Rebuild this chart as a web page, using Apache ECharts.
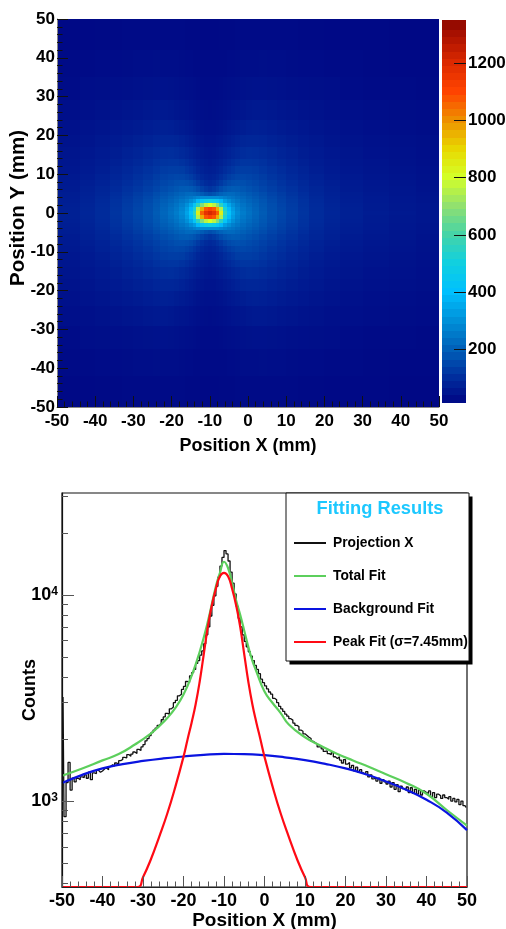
<!DOCTYPE html>
<html>
<head>
<meta charset="utf-8">
<style>html,body{margin:0;padding:0;background:#fff}#c{width:506px;height:929px}</style>
<script src="https://cdn.jsdelivr.net/npm/echarts@6/dist/echarts.min.js"></script>
</head>
<body>
<div id="c"></div>
<script>
// --- 2D map. The spot is close to mirror-symmetric about (-10, 0), so counts are read
// off the picture for one quadrant: rows by |y| (peak row first), columns by distance from x = -10.
const mapXEdges = [-50,-44,-40,-36,-33,-30,-27.5,-25,-23,-21,-19.5,-18,-16.5,-15.5,-14.5,-13.5,-12.5,-11.5,-10.5,-9.5,-8.5,-7.5,-6.5,-5.5,-4.5,-3.5,-2,-0.5,1,3,5,7.5,10,13,16,20,24,30,37,44,50];
const mapYEdges = [50,42,35,29,24,20,17,14,12,10,8.5,7,5.5,4.5,3.5,2.5,1.5,0.5,-0.5,-1.5,-2.5,-3.5,-4.5,-5.5,-7,-8.5,-10,-12,-14,-17,-20,-24,-29,-35,-42,-50];
const mapQuadrant = [
[1210,1170,1060,840,560,420,340,290,258,235,212,190,168,150,132,115,98,84,73,63,56,50],
[1110,1080,960,750,520,390,325,280,250,230,208,187,166,148,131,114,97,83,72,62,55,50],
[800,760,680,560,430,350,300,265,240,220,202,183,163,145,129,112,96,82,71,61,54,49],
[480,465,430,385,325,295,265,245,226,209,194,177,158,141,125,109,93,80,69,60,53,48],
[290,290,290,280,265,250,240,225,212,198,185,169,152,136,121,106,90,78,67,59,52,47],
[165,175,190,205,215,220,218,208,198,186,175,161,145,130,116,102,87,75,65,57,51,46],
[115,125,140,160,175,185,190,188,180,171,162,149,135,122,109,96,83,72,62,55,49,44],
[92,98,110,125,142,155,163,168,165,158,150,139,126,114,102,90,78,68,59,53,47,42],
[78,82,90,103,118,130,140,148,150,146,140,130,118,107,96,85,74,64,56,51,45,41],
[68,71,77,87,99,110,120,130,133,133,128,120,109,99,89,79,69,60,53,48,43,39],
[60,63,68,75,84,93,103,112,117,118,116,110,100,91,82,73,64,56,50,45,41,37],
[52,54,58,64,71,78,86,94,100,103,102,98,90,82,74,66,59,52,47,42,38,35],
[45,46,49,53,58,64,70,77,83,86,87,84,78,72,66,60,54,48,43,39,36,33],
[38,39,41,44,48,52,56,61,66,70,72,70,67,62,57,52,47,43,39,35,32,30],
[32,33,34,36,39,42,45,48,51,54,56,56,54,51,47,43,40,37,34,31,29,27],
[27,28,28,30,31,33,35,37,39,41,42,42,41,39,37,35,33,31,28,26,25,23],
[24,24,24,25,26,27,28,29,31,32,32,33,32,31,30,28,27,25,24,23,21,20],
[21,21,21,22,22,23,23,24,25,25,25,25,25,25,24,23,22,21,20,20,19,19]
];

// --- colour scale ---
const paletteStops = ['#000080','#002c9c','#0060b8','#0090d8','#00c0ff','#10d0e0','#44d4a8','#90e070','#d4ff28','#e8d800','#ee9000','#ff4400','#dd2a00','#a81000','#700000'];
const colorbarEdges = [15,40,65,90,115,140,165,190,215,240,265,290,315,340,365,390,415,440,465,490,515,540,565,590,615,640,665,690,715,740,765,790,815,840,865,890,915,940,965,990,1015,1040,1065,1090,1115,1140,1165,1190,1215,1240,1265,1290,1315,1350];
const colorbarTicks = [200,400,600,800,1000,1200];

// --- projection histogram, bins of 0.5 mm starting at -50 ---
const histStart = -50;
const histBinWidth = 0.5;
const projectionCounts = [
3200,840,1230,1540,1130,1290,1240,1290,1270,1310,
1300,1340,1290,1380,1270,1370,1360,1410,1380,1400,
1430,1450,1420,1470,1500,1480,1530,1510,1570,1590,
1630,1620,1680,1650,1690,1730,1700,1780,1760,1830,
1880,1960,2010,2080,2150,2210,2260,2330,2380,2480,
2560,2660,2640,2800,2860,3000,3080,3240,3300,3480,
3600,3800,3760,4050,4200,4350,4650,4800,5100,5350,
5800,6400,7000,7900,8900,9900,11000,12200,13800,15200,
16400,15800,14600,12900,11400,10100,8800,7700,7000,6400,
5950,5600,5300,5050,4800,4550,4350,4150,3900,3750,
3620,3500,3380,3300,3150,3100,3000,2880,2800,2720,
2640,2580,2510,2470,2390,2330,2300,2210,2180,2120,
2080,2040,2010,1950,1920,1890,1830,1840,1790,1740,
1750,1700,1680,1720,1640,1610,1640,1580,1530,1590,
1510,1540,1450,1490,1400,1460,1380,1420,1370,1340,
1390,1310,1340,1280,1300,1250,1290,1220,1270,1240,
1210,1250,1170,1230,1140,1200,1110,1180,1150,1130,
1170,1100,1160,1090,1140,1080,1130,1070,1120,1100,
1090,1120,1050,1100,1040,1080,1060,1030,1070,1040,
1020,1050,1000,1030,990,1020,960,1000,950,930
];

// --- fit curves ---
const totalFitX = [-50,-45,-40,-36,-32,-28,-26,-24,-22,-20,-18,-16,-14,-12,-11,-10,-9,-8,-7,-6,-5,-4,-3,-2,0,2,4,6,10,14,18,22,26,30,35,40,45,50];
const totalFitY = [1327,1440,1575,1690,1880,2130,2310,2530,2830,3290,4050,5300,7400,11000,12800,14480,13500,11400,9400,8000,6700,5600,4800,4250,3400,2990,2670,2350,2040,1850,1690,1570,1460,1350,1225,1085,905,760];
const backgroundX = [-50,-45,-40,-35,-30,-25,-20,-15,-10,-5,0,5,10,15,20,25,30,35,40,45,50];
const backgroundY = [1222,1340,1440,1510,1565,1610,1645,1675,1692,1690,1670,1630,1580,1515,1440,1350,1245,1135,1015,880,723];
const peakX = [-50,-31.4,-30,-28,-26,-24,-22,-20,-19,-18,-17,-16,-15,-14,-13,-12,-11,-10,-9,-8,-7,-6,-5,-4,-3,-2,-1,0,2,4,6,8,10,11.4,50];
const peakY = [383,383,427,525,671,870,1175,1640,1990,2400,2950,3800,5150,7000,8900,10700,12300,12800,12300,10700,8900,7000,5150,3800,2950,2400,1990,1640,1175,870,671,525,427,383,383];

// --- axis ticks ---
const logMajorTicks = [1000,10000];
const logMinorTicks = [400,500,600,700,800,900,2000,3000,4000,5000,6000,7000,8000,9000,20000,30000];

const seriesNames = ['Projection X','Total Fit','Background Fit','Peak Fit (σ=7.45mm)'];

// expand the quadrant over the 40 x-cells and 35 y-cells of the map
const expandRow = row => row.slice(1, 19).reverse().concat(row);
const upperRows = mapQuadrant.slice().reverse().map(expandRow);
const lowerRows = mapQuadrant.slice(1).map(expandRow);
const mapCounts = upperRows.concat(lowerRows);

const mapCells = [];
mapCounts.forEach((row, r) => row.forEach((v, c) => {
  mapCells.push([mapXEdges[c], mapXEdges[c + 1], mapYEdges[r], mapYEdges[r + 1], v]);
}));
const barCells = [];
for (let i = 0; i + 1 < colorbarEdges.length; i++) {
  barCells.push([0, 1, colorbarEdges[i], colorbarEdges[i + 1], (colorbarEdges[i] + colorbarEdges[i + 1]) / 2]);
}
const zip = (a, b) => a.map((v, i) => [v, b[i]]);
const histData = projectionCounts.map((v, i) => [histStart + histBinWidth * (i + 0.5), v]);

function renderCell(params, api) {
  const p0 = api.coord([api.value(0), api.value(2)]);
  const p1 = api.coord([api.value(1), api.value(3)]);
  const x0 = Math.round(Math.min(p0[0], p1[0])), x1 = Math.round(Math.max(p0[0], p1[0]));
  const y0 = Math.round(Math.min(p0[1], p1[1])), y1 = Math.round(Math.max(p0[1], p1[1]));
  return {
    type: 'rect',
    shape: { x: x0, y: y0, width: x1 - x0, height: y1 - y0 },
    style: { fill: api.visual('color') }
  };
}

const sans = { fontFamily: '"Liberation Sans",sans-serif', fontWeight: 'bold', fontSize: 18, color: '#000' };
const axisInk = { lineStyle: { color: '#222', width: 1 } };

const chart = echarts.init(document.getElementById('c'), null, { renderer: 'canvas' });
chart.setOption({
  animation: false,
  backgroundColor: '#fff',
  grid: [
    { left: 57, top: 19, width: 382, height: 388, outerBoundsMode: 'none' },
    { left: 442, top: 20, width: 24, height: 386.9, outerBoundsMode: 'none' },
    { left: 62, top: 493, width: 405, height: 394, outerBoundsMode: 'none', show: true, borderColor: '#111', borderWidth: 1.2, backgroundColor: 'transparent' }
  ],
  visualMap: { type: 'continuous', show: false, min: 0, max: 1400, dimension: 4, seriesIndex: [0, 1], inRange: { color: paletteStops } },
  xAxis: [
    { gridIndex: 0, type: 'value', min: -50, max: 50, interval: 10, z: 10,
      name: 'Position X (mm)', nameLocation: 'middle', nameGap: 30, nameMoveOverlap: false,
      nameTextStyle: { ...sans, fontSize: 18 },
      axisLine: { show: true, onZero: false, lineStyle: { color: '#888', width: 1 } },
      axisTick: { inside: true, length: 11, lineStyle: { color: '#111' } },
      minorTick: { show: true, splitNumber: 5, length: 5.5, lineStyle: { color: '#111' } },
      axisLabel: { ...sans, fontSize: 17, margin: 6, hideOverlap: false, showMinLabel: true, showMaxLabel: true },
      splitLine: { show: false }, minorSplitLine: { show: false } },
    { gridIndex: 1, type: 'value', min: 0, max: 1, show: false },
    { gridIndex: 2, type: 'value', min: -50, max: 50, interval: 10, z: 10,
      name: 'Position X (mm)', nameLocation: 'middle', nameGap: 24, nameMoveOverlap: false,
      nameTextStyle: { ...sans, fontSize: 19 },
      axisLine: { show: true, onZero: false, ...axisInk },
      axisTick: { inside: true, length: 11, lineStyle: { color: '#555' } },
      minorTick: { show: true, splitNumber: 5, length: 5.5, lineStyle: { color: '#555' } },
      axisLabel: { ...sans, margin: 5, showMinLabel: true, showMaxLabel: true },
      splitLine: { show: false }, minorSplitLine: { show: false } }
  ],
  yAxis: [
    { gridIndex: 0, type: 'value', min: -50, max: 50, interval: 10, z: 10,
      name: 'Position Y (mm)', nameLocation: 'middle', nameGap: 28, nameMoveOverlap: false,
      nameTextStyle: { ...sans, fontSize: 20.5, padding: [0, 0, 0, 10] },
      axisLine: { show: true, onZero: false, lineStyle: { color: '#888', width: 1 } },
      axisTick: { inside: true, length: 11, lineStyle: { color: '#111' } },
      minorTick: { show: true, splitNumber: 5, length: 5.5, lineStyle: { color: '#111' } },
      axisLabel: { ...sans, fontSize: 17, margin: 2, showMinLabel: true, showMaxLabel: true },
      splitLine: { show: false }, minorSplitLine: { show: false } },
    { gridIndex: 1, type: 'value', position: 'right', min: 0, max: 1350, interval: 200, z: 10,
      axisLine: { show: false, onZero: false },
      axisTick: { inside: true, length: 12, customValues: colorbarTicks, lineStyle: { color: '#111' } },
      axisLabel: { ...sans, fontSize: 17, margin: 2, customValues: colorbarTicks, formatter: v => String(v) },
      splitLine: { show: false } },
    { gridIndex: 2, type: 'log', logBase: 10, position: 'left', min: 383, max: 31200, z: 10,
      name: 'Counts', nameLocation: 'middle', nameGap: 23, nameMoveOverlap: false,
      nameTextStyle: { ...sans, fontSize: 18 },
      axisLine: { show: true, onZero: false, lineStyle: { color: '#111', width: 1.2 } },
      axisTick: { inside: true, length: 12, customValues: logMajorTicks, lineStyle: { color: '#555' } },
      axisLabel: { margin: 4, customValues: logMajorTicks,
        formatter: v => '{b|10}{s|' + Math.round(Math.log10(v)) + '}',
        rich: { b: { ...sans, fontSize: 18 }, s: { ...sans, fontSize: 12, verticalAlign: 'top', padding: [0, 0, 7, 0] } } },
      splitLine: { show: false } },
    { gridIndex: 2, type: 'log', logBase: 10, position: 'left', min: 383, max: 31200, z: 10,
      axisLine: { show: false, onZero: false },
      axisTick: { inside: true, length: 6, customValues: logMinorTicks, lineStyle: { color: '#555' } },
      axisLabel: { show: false },
      splitLine: { show: false } }
  ],
  legend: {
    orient: 'vertical', left: 288, top: 531, z: 60,
    itemStyle: { opacity: 0 },
    data: seriesNames, itemWidth: 32, itemHeight: 14, itemGap: 19, selectedMode: false,
    textStyle: { fontFamily: '"Liberation Sans",sans-serif', fontWeight: 'bold', fontSize: 13.8, color: '#000', padding: [0, 0, 0, 2] }
  },
  graphic: { elements: [
    { type: 'rect', z: 50, shape: { x: 289.5, y: 496.5, width: 183, height: 168 }, style: { fill: '#000' } },
    { type: 'rect', z: 51, shape: { x: 286, y: 493, width: 183, height: 168 }, style: { fill: '#fff', stroke: '#111', lineWidth: 1 } },
    { type: 'text', z: 52, style: { x: 380, y: 509, text: 'Fitting Results', align: 'center', verticalAlign: 'middle', fill: '#1cc8ff', font: 'bold 18.3px "Liberation Sans",sans-serif' } }
  ] },
  series: [
    { type: 'custom', name: 'map', xAxisIndex: 0, yAxisIndex: 0, renderItem: renderCell, encode: { x: [0, 1], y: [2, 3] }, data: mapCells, silent: true },
    { type: 'custom', name: 'scale', xAxisIndex: 1, yAxisIndex: 1, renderItem: renderCell, encode: { x: [0, 1], y: [2, 3] }, data: barCells, silent: true },
    { type: 'line', name: seriesNames[0], xAxisIndex: 2, yAxisIndex: 2, data: histData, step: 'middle', symbol: 'none', clip: false, color: '#111', lineStyle: { color: '#111', width: 1.3 } },
    { type: 'line', name: seriesNames[1], xAxisIndex: 2, yAxisIndex: 2, data: zip(totalFitX, totalFitY), smooth: 0.5, symbol: 'none', color: '#5ccf5c', lineStyle: { color: '#5ccf5c', width: 2.2 } },
    { type: 'line', name: seriesNames[2], xAxisIndex: 2, yAxisIndex: 2, data: zip(backgroundX, backgroundY), smooth: 0.5, symbol: 'none', color: '#0a14e0', lineStyle: { color: '#0a14e0', width: 2.2 } },
    { type: 'line', name: seriesNames[3], xAxisIndex: 2, yAxisIndex: 2, data: zip(peakX, peakY), smooth: 0.5, symbol: 'none', clip: false, color: '#ff0a14', lineStyle: { color: '#ff0a14', width: 2.2 } }
  ]
});
</script>
</body>
</html>
